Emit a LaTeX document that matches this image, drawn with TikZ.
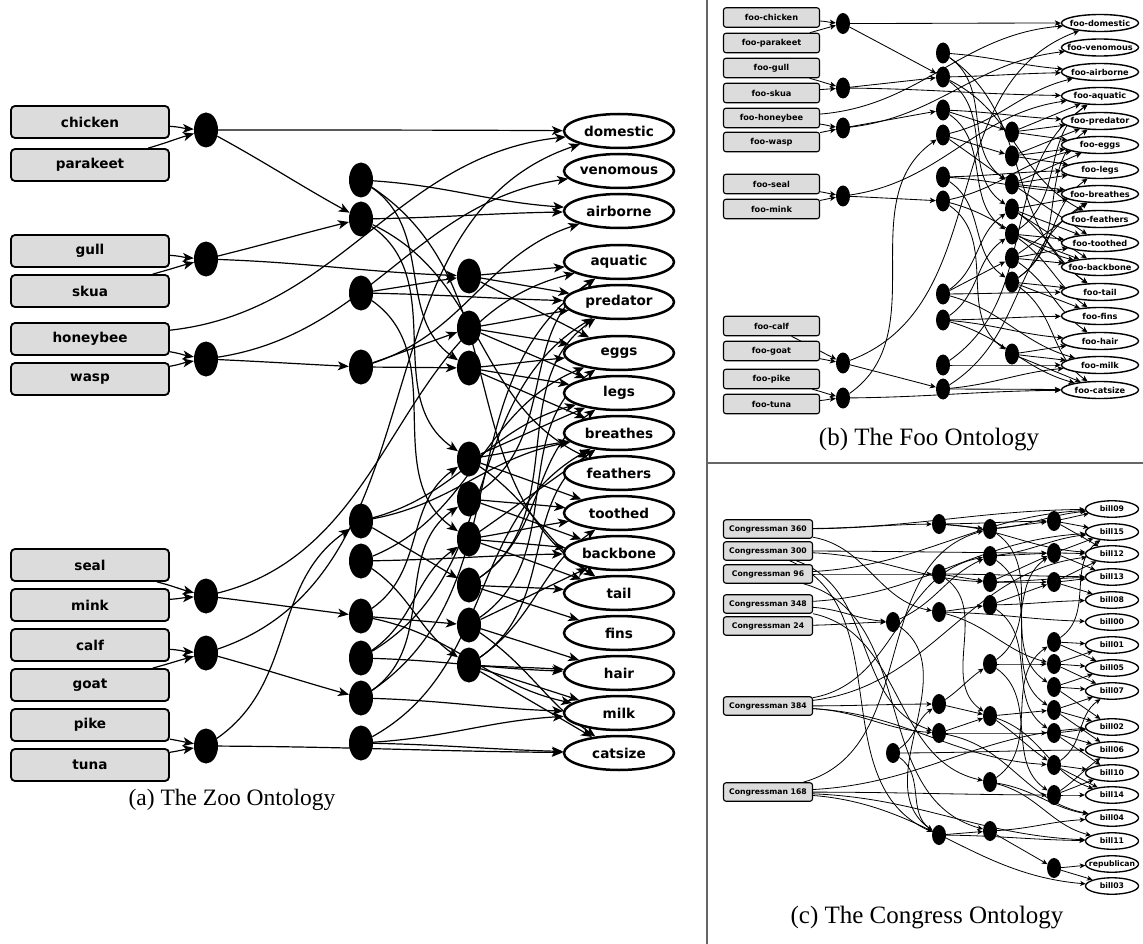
\documentclass[tikz,border=0pt]{standalone}
\usepackage{fontspec}
\setmainfont{Liberation Serif}
\newfontfamily\labfont{DejaVu Sans}
\usetikzlibrary{shapes.geometric,arrows.meta}
\definecolor{boxgray}{HTML}{DCDCDC}
\pgfdeclarelayer{edges}
\pgfsetlayers{edges,main}

% draw a list of src/dst connectors as splines: short hops stay nearly straight,
% long hops bend into an S with flat ends (#2 = horizontal span kept straight)
\newdimen\lkdx
\newcommand\linkall[3]{%
  \foreach \sa/\ta in {#3} {%
    \pgfextractx{\lkdx}{\pgfpointdiff{\pgfpointanchor{\sa}{center}}{\pgfpointanchor{\ta}{center}}}%
    \pgfmathanglebetweenpoints{\pgfpointanchor{\sa}{center}}{\pgfpointanchor{\ta}{center}}%
    \let\angraw\pgfmathresult
    \pgfmathsetmacro\fac{max(0.3,min(1,#2/max(1,\lkdx)))}%
    \pgfmathsetmacro\ha{max(-35,min(35,\fac*(mod(\angraw+180,360)-180)))}%
    \pgfmathsetmacro\hb{180+\ha}%
    \draw[#1] (\sa) to[out=\ha,in=\hb] (\ta);
  }}

\begin{document}
\begin{tikzpicture}[x=1pt,y=-1pt,
  zbox/.style={draw, line width=1.8pt, rounded corners=4pt, fill=boxgray,
    minimum width=158pt, minimum height=32pt, inner sep=0pt,
    font=\labfont\bfseries\fontsize{13.6}{16}\selectfont},
  zhid/.style={ellipse, fill=black, minimum width=24pt, minimum height=35pt, inner sep=0pt},
  zout/.style={ellipse, draw, line width=2.5pt, fill=white, minimum width=110pt,
    minimum height=34pt, inner sep=0pt, font=\labfont\bfseries\fontsize{13.6}{16}\selectfont},
  zedge/.style={-{Stealth[length=11pt,width=9pt,inset=3pt]}, line width=1.2pt},
  fbox/.style={draw, line width=1.1pt, rounded corners=2.5pt, fill=boxgray,
    minimum width=96pt, minimum height=19.5pt, inner sep=0pt,
    font=\labfont\bfseries\fontsize{8.2}{10}\selectfont},
  fhid/.style={ellipse, fill=black, minimum width=14pt, minimum height=21pt, inner sep=0pt},
  fout/.style={ellipse, draw, line width=1.4pt, fill=white, minimum width=77pt,
    minimum height=17pt, inner sep=0pt, font=\labfont\bfseries\fontsize{8.2}{10}\selectfont},
  fedge/.style={-{Stealth[length=6pt,width=5.5pt,inset=1.6pt]}, line width=0.85pt},
  cbox/.style={draw, line width=1.1pt, rounded corners=2.5pt, fill=boxgray,
    minimum width=89pt, minimum height=18.5pt, inner sep=0pt,
    font=\labfont\bfseries\fontsize{7.7}{9}\selectfont},
  chid/.style={ellipse, fill=black, minimum width=14pt, minimum height=20pt, inner sep=0pt},
  cout/.style={ellipse, draw, line width=1.3pt, fill=white, minimum width=53pt,
    minimum height=16.5pt, inner sep=0pt, font=\labfont\bfseries\fontsize{7.7}{9}\selectfont},
  cedge/.style={-{Stealth[length=5.5pt,width=5pt,inset=1.5pt]}, line width=0.8pt},
  divider/.style={draw=black!60, line width=1.3pt},
  caption/.style={font=\fontsize{23.5}{26}\selectfont, inner sep=0pt}
]
\useasboundingbox (0,0) rectangle (1143,944);
\begin{pgfonlayer}{edges}
  \fill[white] (0,0) rectangle (1143,944);
\end{pgfonlayer}

% panel separators
\draw[divider] (707,0) -- (707,944);
\draw[divider] (707,463) -- (1143,463);

%% ---------------- (a) Zoo ----------------
\foreach \n/\y in {chicken/122, parakeet/165, gull/251, skua/291, honeybee/339, wasp/379,
                   seal/565, mink/605, calf/645, goat/685, pike/725, tuna/765}
  \node[zbox] (\n) at (90,\y) {\n};
\foreach \n/\y in {e1/130, e2/259, e3/359, e4/596, e5/653, e6/746}
  \node[zhid] (\n) at (206,\y) {};
\foreach \n/\y in {a1/180, a2/219, a3/293, a4/367, a5/521, a6/561, a7/616, a8/658, a9/698, a10/743}
  \node[zhid] (\n) at (361,\y) {};
\foreach \n/\y in {b1/276, b2/328, b3/368, b4/459, b5/499, b6/539, b7/585, b8/625, b9/665}
  \node[zhid] (\n) at (469,\y) {};
\foreach \n/\y in {domestic/131, venomous/171, airborne/211, aquatic/262, predator/302,
                   eggs/353, legs/393, breathes/433, feathers/473, toothed/513, backbone/553,
                   tail/593, fins/633, hair/673, milk/713, catsize/753}
  \node[zout] (\n) at (619,\y) {\makebox[0pt]{\n}};

\begin{pgfonlayer}{edges}
\linkall{zedge}{150}{chicken/e1, parakeet/e1, gull/e2, skua/e2, honeybee/e3, wasp/e3,
  seal/e4, mink/e4, calf/e5, goat/e5, pike/e6, tuna/e6, honeybee/domestic,
  e1/domestic, e1/a2, e2/a2, e2/b1, e3/venomous, e3/a4, e4/aquatic, e4/a7,
  e5/domestic, e5/a9, e6/a5, e6/catsize,
  a1/airborne, a1/b3, a1/tail, a2/airborne, a2/b4, a2/feathers, a3/b1, a3/b6, a3/predator,
  a4/airborne, a4/b3, a4/b2, a5/b7, a5/breathes, a5/legs, a6/backbone, a6/b9, a6/eggs,
  a7/b8, a7/b4, a7/milk, a8/b6, a8/hair, a8/predator, a9/b5, a9/milk, a9/aquatic,
  a10/milk, a10/catsize, a10/breathes,
  b1/aquatic, b1/predator, b1/eggs, b2/predator, b2/eggs, b2/legs, b3/eggs, b3/legs,
  b3/breathes, b4/breathes, b4/toothed, b4/legs, b4/tail, b5/toothed, b5/backbone,
  b5/aquatic, b6/backbone, b6/toothed, b6/breathes, b6/tail, b7/tail, b7/legs, b7/fins,
  b7/predator, b8/hair, b8/backbone, b8/eggs, b8/catsize, b9/hair, b9/milk, b9/catsize,
  b9/breathes, b9/toothed}
\end{pgfonlayer}

\node[caption] (capa) at (232,800) {(a) The Zoo Ontology};

%% ---------------- (b) Foo ----------------
\foreach \n/\y in {chicken/17.5, parakeet/43, gull/68, skua/93, honeybee/118, wasp/142,
                   seal/184, mink/209, calf/326, goat/351, pike/379, tuna/404}
  \node[fbox] (f\n) at (771.5,\y) {foo-\n};
\foreach \n/\y in {f1/23.5, f2/88, f3/128, f4/196, f5/363, f6/398}
  \node[fhid] (\n) at (843,\y) {};
\foreach \n/\y in {g1/53, g2/77, g3/110, g4/135, g5/177, g6/201, g7/294, g8/320, g9/365, g10/389}
  \node[fhid] (\n) at (943,\y) {};
\foreach \n/\y in {h1/132, h2/156, h3/184, h4/209, h5/234, h6/258, h7/282, h8/354}
  \node[fhid] (\n) at (1012,\y) {};
\foreach \n/\y in {domestic/23, venomous/47.5, airborne/72, aquatic/96, predator/121,
                   eggs/145, legs/170, breathes/194, feathers/219, toothed/243, backbone/267,
                   tail/292, fins/316, hair/341, milk/365, catsize/390}
  \node[fout] (f\n) at (1100,\y) {\makebox[0pt]{foo-\n}};

\begin{pgfonlayer}{edges}
\linkall{fedge}{100}{fchicken/f1, fparakeet/f1, fgull/f2, fskua/f2, fhoneybee/f3, fwasp/f3,
  fseal/f4, fmink/f4, fcalf/f5, fgoat/f5, fpike/f6, ftuna/f6, fhoneybee/fdomestic,
  f1/fdomestic, f1/g2, f2/g2, f2/faquatic, f3/fvenomous, f3/g3, f4/faquatic, f4/g6,
  f5/fdomestic, f5/g10, f6/g4, f6/fcatsize,
  g1/fairborne, g1/h3, g1/ftail, g2/fairborne, g2/h4, g2/ffeathers, g3/h1, g3/h5,
  g3/fpredator, g4/h3, g4/h2, g4/fairborne, g5/h7, g5/fbreathes, g5/flegs, g6/fbackbone,
  g6/h8, g6/feggs, g7/h6, g7/h4, g7/fmilk, g7/ftail, g8/h5, g8/fhair, g8/fcatsize,
  g8/ffins, g9/fmilk, g9/faquatic, g10/fmilk, g10/fcatsize, g10/fbreathes,
  h1/faquatic, h1/fpredator, h1/feggs, h2/fpredator, h2/feggs, h2/flegs, h3/feggs,
  h3/flegs, h3/fbreathes, h3/ftoothed, h4/fbreathes, h4/ftoothed, h4/ftail, h4/fbackbone,
  h5/ftoothed, h5/fbackbone, h5/faquatic, h5/ffins, h6/fbackbone, h6/ftoothed,
  h6/fbreathes, h6/fhair, h7/ftail, h7/flegs, h7/ffins, h7/fpredator, h7/fcatsize,
  h8/fhair, h8/fmilk, h8/fcatsize}
\end{pgfonlayer}

\node[caption, font=\fontsize{25}{28}\selectfont] (capb) at (929,440) {(b) The Foo Ontology};

%% ---------------- (c) Congress ----------------
\foreach \n/\y in {360/529, 300/551, 96/574, 348/604, 24/626, 384/706, 168/792}
  \node[cbox] (c\n) at (768,\y) {Congressman \n};
\node[chid] (j1) at (893,622) {};
\node[chid] (j2) at (893,753) {};
\foreach \n/\y in {k1/524, k2/574, k3/612, k4/704, k5/733, k6/835}
  \node[chid] (\n) at (939,\y) {};
\foreach \n/\y in {l1/529, l2/556, l3/582, l4/605, l5/664, l6/716, l7/782, l8/831}
  \node[chid] (\n) at (990,\y) {};
\foreach \n/\y in {m1/521, m2/553, m3/582, m4/642, m5/664, m6/687, m7/710, m8/733,
                   m9/765, m10/795, m11/868}
  \node[chid] (\n) at (1054,\y) {};
\foreach \n/\y in {bill09/509, bill15/532, bill12/554, bill13/577, bill08/600, bill00/622,
                   bill01/645, bill05/668, bill07/691, bill02/727, bill06/750, bill10/773,
                   bill14/795, bill04/818, bill11/841, republican/864, bill03/886}
  \node[cout] (\n) at (1112,\y) {\makebox[0pt]{\n}};

\begin{pgfonlayer}{edges}
\linkall{cedge}{70}{c360/k1, c360/k3, c360/bill09, c300/m2, c300/l3, c300/k5, c300/k6,
  c96/k2, c96/bill09, c96/l8, c348/j1, c348/bill15, c348/l7, c24/j1,
  c384/k4, c384/k5, c384/bill12, c384/m9, c384/l2,
  c168/l1, c168/bill02, c168/m10, c168/bill11, c168/bill03,
  j1/k6, j1/l2, j2/k4, j2/bill06, j2/k6,
  k1/l1, k1/m1, k1/bill12, k2/l3, k2/l6, k2/bill13, k3/l4, k3/bill00, k3/m5,
  k4/l6, k4/l5, k5/l6, k5/bill04, k5/m8, k6/l8, k6/bill11,
  l1/m1, l1/m6, l1/bill09, l2/m2, l2/m7, l2/bill15, l3/m3, l3/bill13, l3/m2,
  l4/bill08, l4/m8, l4/m3, l5/m5, l5/m2, l5/m10, l6/m9, l6/m7, l6/bill14,
  l7/m4, l7/bill11, l7/bill04, l8/bill04, l8/m11,
  m1/bill09, m1/bill15, m1/bill12, m2/bill12, m2/bill15, m2/bill13,
  m3/bill12, m3/bill08, m3/bill13, m4/bill01, m4/bill05, m4/bill15,
  m5/bill05, m5/bill07, m5/bill01, m6/bill07, m6/bill05, m6/bill02,
  m7/bill02, m7/bill06, m7/bill07, m8/bill06, m8/bill10, m8/bill02,
  m9/bill10, m9/bill14, m9/bill07, m10/bill14, m10/bill10, m10/bill06,
  m11/republican, m11/bill03}
\end{pgfonlayer}

\node[caption, font=\fontsize{25}{28}\selectfont] (capc) at (927,918) {(c) The Congress Ontology};
\end{tikzpicture}
\end{document}
